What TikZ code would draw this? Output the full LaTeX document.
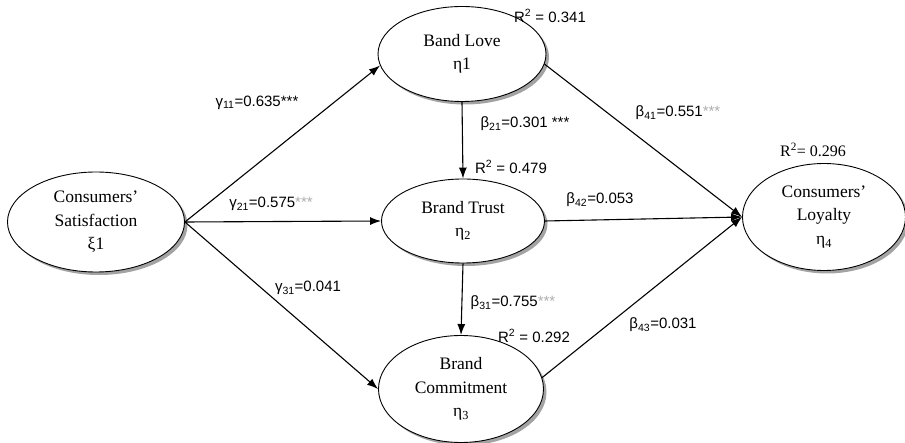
\documentclass[tikz,border=0pt]{standalone}
\usepackage{fontspec}
\setmainfont{Liberation Serif}
\newfontfamily\coeffont{Liberation Sans}
\usetikzlibrary{arrows.meta,shapes.geometric,shadows}
\definecolor{stargray}{gray}{0.68}
\begin{document}
\begin{tikzpicture}[x=1pt,y=-1pt]
                \tikzset{construct/.style={ellipse, draw, line width=0.9pt, fill=white, inner sep=0pt, align=center,
                font=\fontsize{17.5}{23.5}\selectfont,
                drop shadow={shadow xshift=3pt, shadow yshift=-3pt, fill=black!60, opacity=0.6}},
                link/.style={-{Latex[length=11pt,width=8pt]}, line width=1.1pt},
                coef/.style={font=\coeffont\fontsize{15}{17}\selectfont, inner sep=0pt}}

                \useasboundingbox (0,0) rectangle (905,443);

                \node[construct, minimum width=177pt, minimum height=100pt] (sat) at (96,222) {Consumers'\\Satisfaction\\ξ1};
                \node[construct, minimum width=168pt, minimum height=95pt] (love) at (462,54) {Band Love\\η1};
                \node[construct, minimum width=163pt, minimum height=84pt] (trust) at (463,221) {Brand Trust\\η\textsubscript{2}};
                \node[construct, minimum width=165pt, minimum height=107pt] (commit) at (461,389) {Brand\\Commitment\\η\textsubscript{3}};
                \node[construct, minimum width=163pt, minimum height=107pt] (loyal) at (824,217) {Consumers'\\Loyalty\\η\textsubscript{4}};

                \coordinate (hub) at (loyal.west);

                \draw[link] (sat.east) -- (love.188);
                \draw[link] (sat.east) -- (trust.west);
                \draw[link] (sat.east) -- (commit.west);
                \draw[link] (love.south) -- (trust.north);
                \draw[link] (trust.south) -- (commit.north);
                \draw[link] (love.353) -- (hub);
                \draw[link] (trust.east) -- (hub);
                \draw[link] (commit.8) -- (hub);

                \node[coef] (g11) at (257,103) {γ\textsubscript{11}=0.635***};
                \node[coef] (g21) at (271,204) {γ\textsubscript{21}=0.575{\color{stargray}***}};
                \node[coef] (g31) at (308,288) {γ\textsubscript{31}=0.041};
                \node[coef] (b21) at (525,124) {β\textsubscript{21}=0.301 ***};
                \node[coef] (b31) at (513,303) {β\textsubscript{31}=0.755{\color{stargray}***}};
                \node[coef] (b41) at (678,113) {β\textsubscript{41}=0.551{\color{stargray}***}};
                \node[coef] (b42) at (600,200) {β\textsubscript{42}=0.053};
                \node[coef] (b43) at (663,325) {β\textsubscript{43}=0.031};
                \node[coef] (r1) at (550,16) {R\textsuperscript{2} = 0.341};
                \node[coef] (r2) at (511,167) {R\textsuperscript{2} = 0.479};
                \node[coef] (r3) at (534,336) {R\textsuperscript{2} = 0.292};
                \node[font=\fontsize{16}{18}\selectfont, inner sep=0pt] (r4) at (813,150) {R\textsuperscript{2}= 0.296};
\end{tikzpicture}
\end{document}
